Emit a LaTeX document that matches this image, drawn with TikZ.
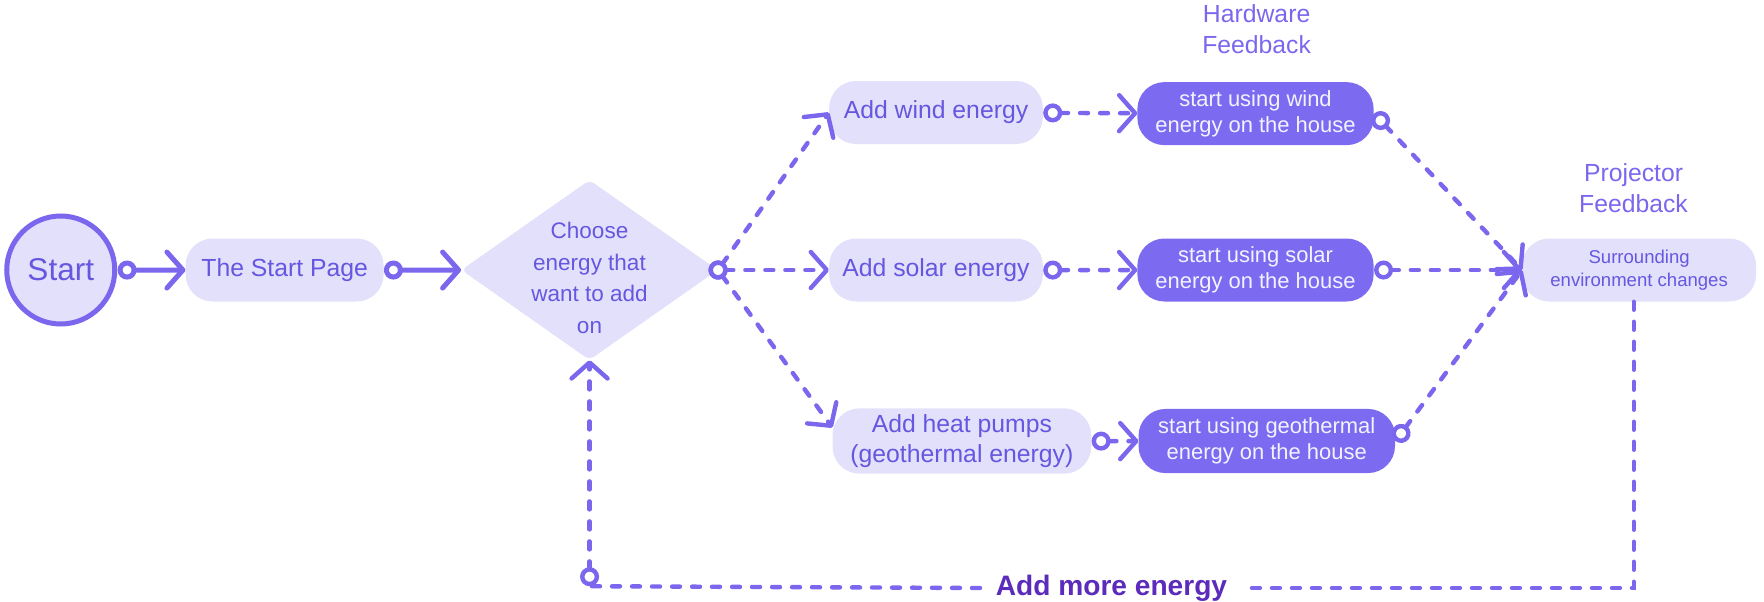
\documentclass[tikz,border=0pt]{standalone}
\usepackage{fontspec}
\setmainfont{Liberation Sans}
\usetikzlibrary{arrows.meta,shapes.geometric}
\definecolor{strokec}{HTML}{7A67EE}
\definecolor{lightfill}{HTML}{E3E0FB}
\definecolor{lighttext}{HTML}{6656E0}
\definecolor{darkfill}{HTML}{7C6BF1}
\definecolor{darktext}{HTML}{F4F2FF}
\definecolor{labeltext}{HTML}{5B2BBB}
\begin{document}
\begin{tikzpicture}[x=1pt,y=-1pt,scale=1.125,every node/.style={transform shape},
  pill/.style={rectangle, rounded corners=27pt, minimum height=56pt, inner sep=0pt, align=center},
  lightpill/.style={pill, fill=lightfill, text=lighttext, font=\fontsize{22}{26}\selectfont},
  darkpill/.style={pill, fill=darkfill, text=darktext, font=\fontsize{19.5}{23.5}\selectfont},
  headlabel/.style={align=center, text=strokec, font=\fontsize{22}{27.5}\selectfont},
  conn/.style={draw=strokec, line width=5pt, line cap=round,
     {Circle[length=19pt,fill=white]}-{Straight Barb[length=16pt,width=36pt,round]}},
  dashconn/.style={conn, line width=4.4pt, dash pattern=on 8pt off 12pt},
  loopline/.style={draw=strokec, line width=4.4pt, line cap=round, dash pattern=on 8pt off 12pt},
  fromvertex/.style={shorten <=-9.5pt}
]
\useasboundingbox (0,0) rectangle (1568,535.11);

\node[circle, draw=strokec, line width=5pt, fill=lightfill, text=lighttext, minimum size=96pt, inner sep=0pt, font=\fontsize{28}{30}\selectfont] (start) at (54,240) {Start};
\node[lightpill, minimum width=176pt] (startpage) at (253,240) {The Start Page};
\node[diamond, fill=lightfill, minimum width=228pt, minimum height=160pt, inner sep=0pt, rounded corners=6pt] (choose) at (524,240) {};
\node[align=center, text=lighttext, font=\fontsize{20}{28}\selectfont] (choosetext) at (524,247) {Choose\\energy that\\want to add\\on};

\node[lightpill, minimum width=190pt] (wind) at (832,100) {Add wind energy};
\node[lightpill, minimum width=190pt] (solar) at (832,240) {Add solar energy};
\node[lightpill, minimum width=230pt, minimum height=58pt] (heat) at (855,392) {Add heat pumps\\(geothermal energy)};

\node[darkpill, minimum width=210pt] (hwind) at (1116,101) {start using wind\\energy on the house};
\node[darkpill, minimum width=210pt] (hsolar) at (1116,240) {start using solar\\energy on the house};
\node[darkpill, minimum width=228pt, minimum height=57pt] (hgeo) at (1126,392) {start using geothermal\\energy on the house};

\node[pill, fill=lightfill, text=lighttext, minimum width=208pt, minimum height=56pt, font=\fontsize{16.5}{20.5}\selectfont] (env) at (1457,240) {Surrounding\\environment changes};

\node[headlabel] (hw) at (1117,26) {Hardware\\Feedback};
\node[headlabel] (proj) at (1452,167) {Projector\\Feedback};

\node[text=labeltext, font=\fontsize{25}{28}\bfseries\selectfont, inner xsep=14pt, anchor=base] (more) at (988,529) {Add more energy};
\coordinate (corner) at (524,521);

\draw[conn] (start) -- (startpage);
\draw[conn] (startpage) -- (choose.west);
\draw[dashconn, fromvertex] (choose.east) -- (wind.west);
\draw[dashconn, fromvertex] (choose.east) -- (solar.west);
\draw[dashconn, fromvertex] (choose.east) -- ([yshift=12pt]heat.west);
\draw[dashconn] (wind) -- (hwind);
\draw[dashconn] (solar) -- (hsolar);
\draw[dashconn] (heat) -- (hgeo);
\draw[dashconn] (hwind.east) -- (env.west);
\draw[dashconn] (hsolar.east) -- (env.west);
\draw[dashconn] (hgeo.east) -- (env.west);
\draw[loopline] (proj.south |- env.south) |- (more.east);
\draw[loopline] (more.west) -- (corner);
\draw[dashconn] (corner) -- (choose.south);
\end{tikzpicture}
\end{document}
